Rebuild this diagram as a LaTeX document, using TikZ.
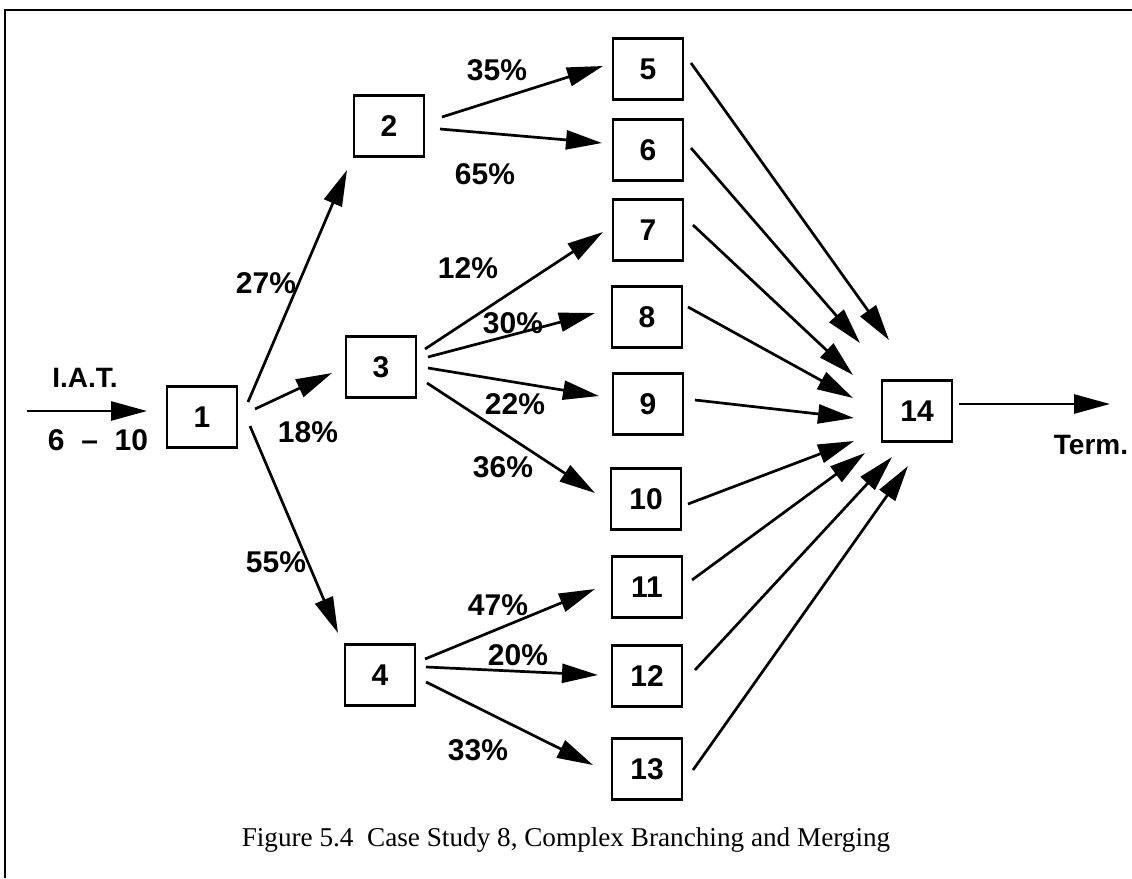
\documentclass[tikz,border=0pt]{standalone}
\usepackage{fontspec}
\setmainfont{Liberation Sans}
\newfontfamily\capfont{Liberation Serif}
\usetikzlibrary{arrows.meta}

\tikzset{
  stn/.style={draw, line width=2.5pt, minimum width=70pt, minimum height=61pt,
              inner sep=0pt, font=\bfseries\fontsize{30}{32}\selectfont},
  lbl/.style={inner sep=0pt, font=\bfseries\fontsize{30}{32}\selectfont},
  sidelbl/.style={inner sep=0pt, font=\bfseries\fontsize{28}{30}\selectfont},
  arr/.style={line width=2.7pt, -{Triangle[length=36pt,width=19pt]}},
  frame/.style={line width=2.2pt}
}

\begin{document}
\begin{tikzpicture}[x=1pt,y=-1pt]
\useasboundingbox (0,0) rectangle (1132,878);

% page frame (top and left edges)
\coordinate (fl) at (5,878);
\coordinate (fc) at (5,10);
\coordinate (fr) at (1132,10);
\draw[frame] (fl) -- (fc) -- (fr);

% stations
\node[stn] (1)  at (202,417) {1};
\node[stn] (2)  at (389,126) {2};
\node[stn] (3)  at (381,367) {3};
\node[stn] (4)  at (380,675) {4};
\node[stn] (5)  at (648,69)  {5};
\node[stn] (6)  at (648,150) {6};
\node[stn] (7)  at (648,230) {7};
\node[stn] (8)  at (647,317) {8};
\node[stn] (9)  at (648,404) {9};
\node[stn] (10) at (646,499) {10};
\node[stn] (11) at (647,587) {11};
\node[stn] (12) at (647,676) {12};
\node[stn] (13) at (647,769) {13};
\node[stn] (14) at (917,411) {14};

% arrivals
\coordinate (in) at (27,411);
\draw[arr] (in) -- ([shift={(-55,-6)}]1.center);
\node[sidelbl] (iat) at (85,378) {I.A.T.};
\node[lbl] (iatv) at (98,440) {6~~--~~10};

% branching out of station 1
\draw[arr] ([shift={(46,-15)}]1.center) -- ([shift={(-42,44)}]2.center);
\draw[arr] ([shift={(53,-8)}]1.center)  -- ([shift={(-49,6)}]3.center);
\draw[arr] ([shift={(48,9)}]1.center)   -- ([shift={(-42,-42)}]4.center);
\node[lbl] (p12) at (266,283) {27\%};
\node[lbl] (p13) at (308,432) {18\%};
\node[lbl] (p14) at (276,562) {55\%};

% branching out of station 2
\draw[arr] ([shift={(53,-9)}]2.center) -- ([shift={(-45,-3)}]5.center);
\draw[arr] ([shift={(51,3)}]2.center)  -- ([shift={(-46,-7)}]6.center);
\node[lbl] (p25) at (497,70)  {35\%};
\node[lbl] (p26) at (485,174) {65\%};

% branching out of station 3
\draw[arr] ([shift={(44,-18)}]3.center) -- ([shift={(-45,2)}]7.center);
\draw[arr] ([shift={(47,-10)}]3.center) -- ([shift={(-52,-4)}]8.center);
\draw[arr] ([shift={(47,1)}]3.center)   -- ([shift={(-49,-8)}]9.center);
\draw[arr] ([shift={(46,16)}]3.center)  -- ([shift={(-51,-6)}]10.center);
\node[lbl] (p37)  at (468,268) {12\%};
\node[lbl] (p38)  at (513,323) {30\%};
\node[lbl] (p39)  at (515,404) {22\%};
\node[lbl] (p310) at (503,467) {36\%};

% branching out of station 4
\draw[arr] ([shift={(45,-16)}]4.center) -- ([shift={(-52,2)}]11.center);
\draw[arr] ([shift={(46,-8)}]4.center)  -- ([shift={(-49,-1)}]12.center);
\draw[arr] ([shift={(46,7)}]4.center)   -- ([shift={(-54,-4)}]13.center);
\node[lbl] (p411) at (498,605) {47\%};
\node[lbl] (p412) at (518,655) {20\%};
\node[lbl] (p413) at (478,750) {33\%};

% merging into station 14
\draw[arr] ([shift={(43,-6)}]5.center)  -- ([shift={(-28,-71)}]14.center);
\draw[arr] ([shift={(43,-2)}]6.center)  -- ([shift={(-57,-68)}]14.center);
\draw[arr] ([shift={(45,-5)}]7.center)  -- ([shift={(-64,-36)}]14.center);
\draw[arr] ([shift={(41,-10)}]8.center) -- ([shift={(-64,-13)}]14.center);
\draw[arr] ([shift={(47,-4)}]9.center)  -- ([shift={(-63,7)}]14.center);
\draw[arr] ([shift={(42,5)}]10.center)  -- ([shift={(-63,30)}]14.center);
\draw[arr] ([shift={(45,-7)}]11.center) -- ([shift={(-52,42)}]14.center);
\draw[arr] ([shift={(48,-6)}]12.center) -- ([shift={(-25,46)}]14.center);
\draw[arr] ([shift={(46,1)}]13.center)  -- ([shift={(-9,55)}]14.center);

% departure
\coordinate (out) at (1110,404);
\draw[arr] ([shift={(42,-7)}]14.center) -- (out);
\node[sidelbl] (term) at (1091,445) {Term.};

% caption
\node[inner sep=0pt, font=\capfont\fontsize{27.2}{29}\selectfont] (cap) at (566,840)
  {Figure 5.4\ \ Case Study 8, Complex Branching and Merging};
\end{tikzpicture}
\end{document}
